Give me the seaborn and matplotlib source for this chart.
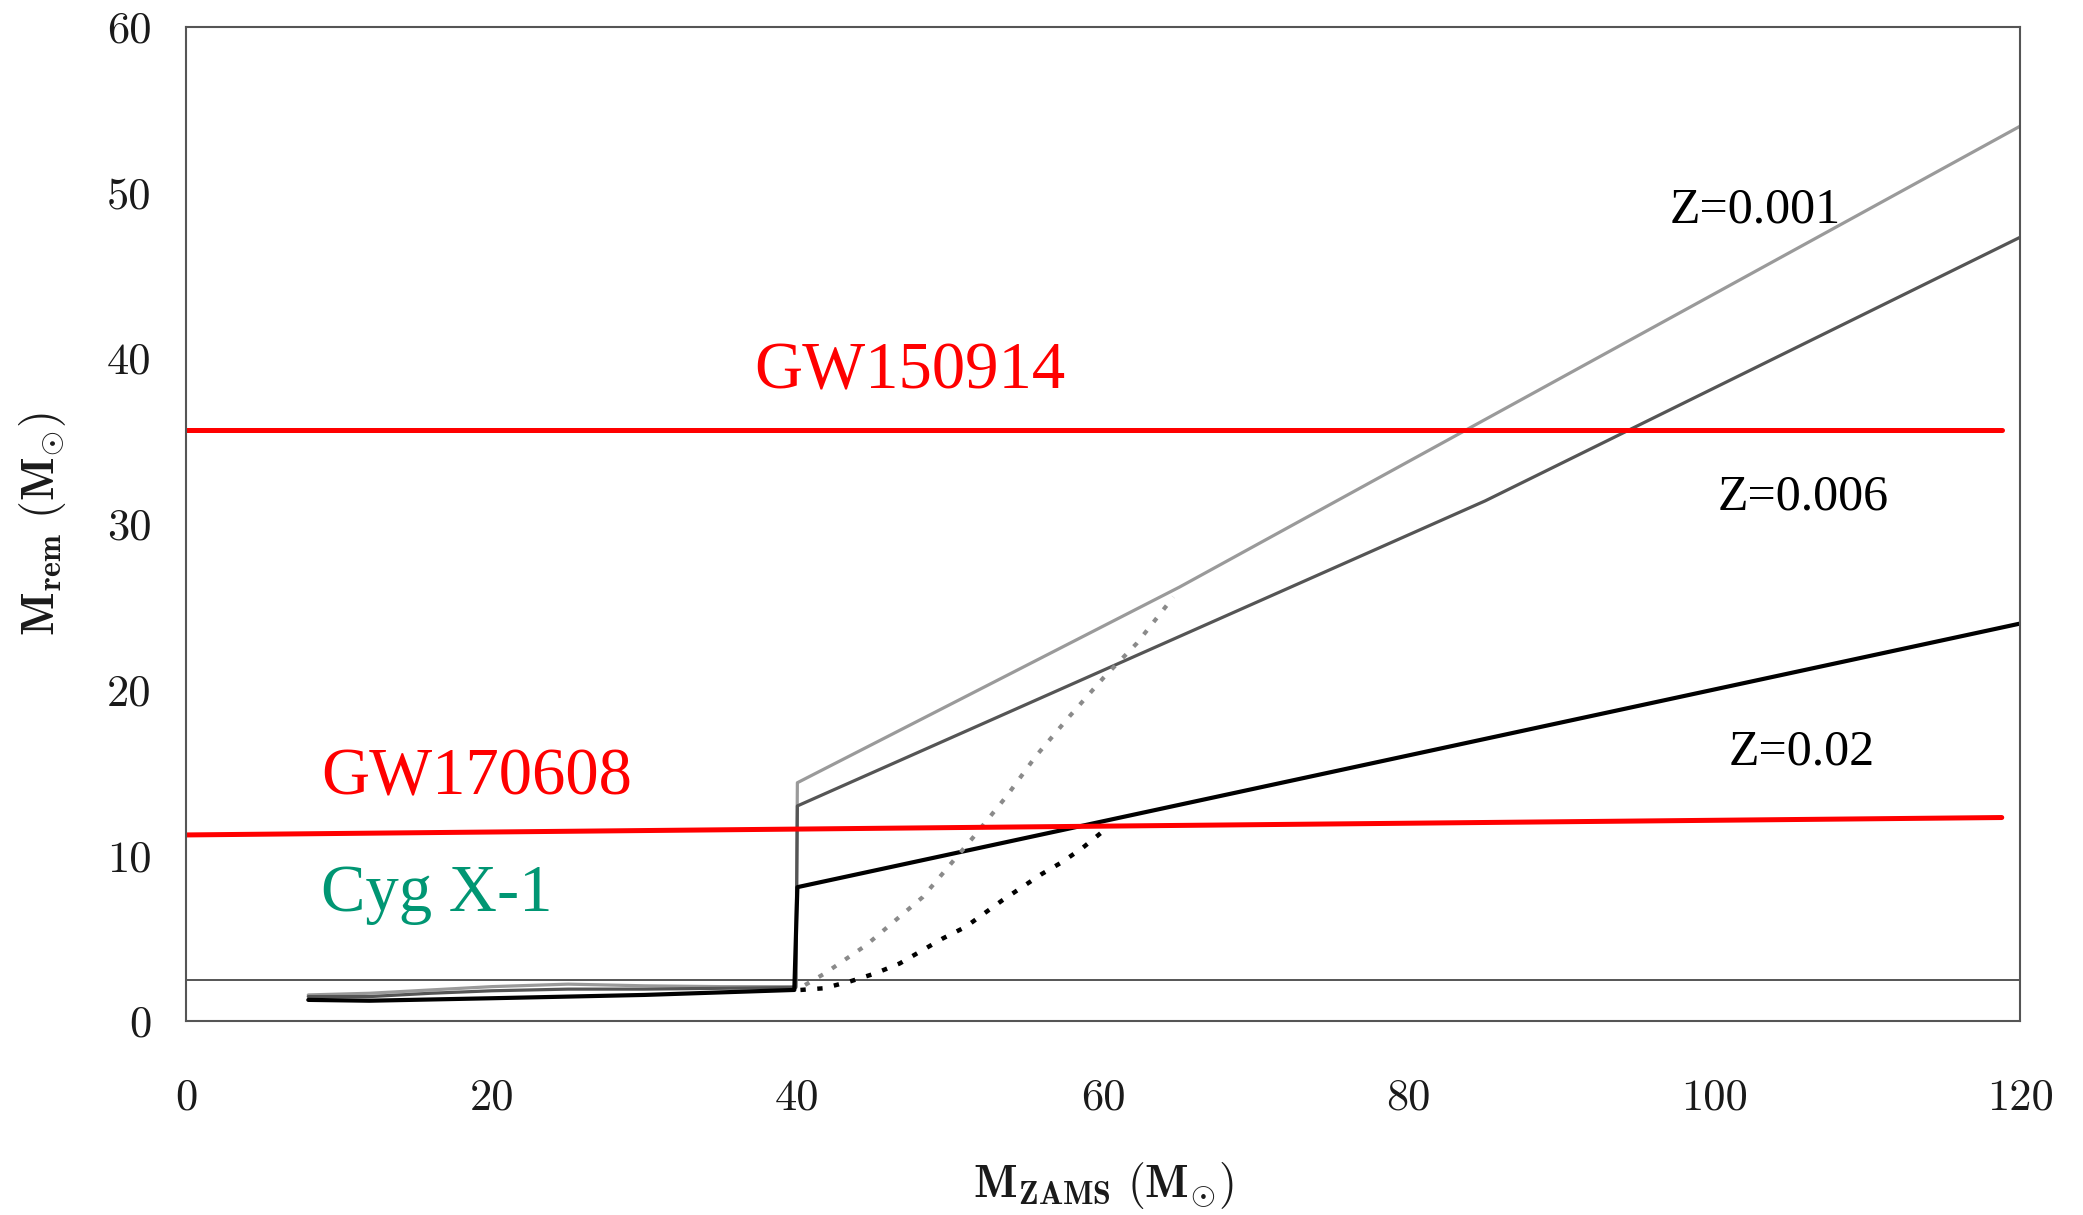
import numpy as np
import pandas as pd
import matplotlib
matplotlib.use("Agg")
import matplotlib.pyplot as plt
import seaborn as sns

# ---------------- data ----------------
z001_x = [8, 12, 16, 20, 25, 30, 35, 39.9, 40.0, 65, 120]
z001_y = [1.6, 1.7, 1.9, 2.1, 2.25, 2.15, 2.1, 2.1, 14.4, 26.2, 54.0]

z006_x = [8, 12, 16, 20, 25, 30, 35, 39.9, 40.0, 85, 120]
z006_y = [1.5, 1.5, 1.7, 1.85, 1.95, 1.95, 2.0, 2.05, 13.0, 31.4, 47.3]

z02_x = [8, 12, 20, 30, 39.8, 40.0, 120]
z02_y = [1.3, 1.25, 1.4, 1.6, 1.9, 8.1, 24.0]

z001_dot_x = [40.5, 41.8, 44.5, 48.2, 51.5, 53.7, 55.6, 57.8, 60.0, 62.2, 64.6]
z001_dot_y = [2.2, 2.9, 4.6, 7.5, 11.1, 13.6, 16.0, 18.4, 20.7, 22.8, 25.6]

z02_dot_x = [40.2, 41.7, 43.4, 45.1, 46.7, 49.5, 51.0, 53.4, 56.0, 57.3, 58.7, 60.3]
z02_dot_y = [1.9, 2.0, 2.4, 2.9, 3.5, 5.0, 5.7, 7.3, 8.9, 9.6, 10.5, 11.7]

gw150914_x = [0, 118.8]
gw150914_y = [35.65, 35.65]
gw170608_x = [0, 118.8]
gw170608_y = [11.25, 12.3]

ns_limit = 2.5

x_ticks = [0, 20, 40, 60, 80, 100, 120]
y_ticks = [0, 10, 20, 30, 40, 50, 60]

labels = ["Z=0.001", "Z=0.006", "Z=0.02"]
label_pos = [(97.1, 48.2), (100.2, 30.9), (100.9, 15.5)]

# ---------------- style ----------------
sns.set_style("white")
plt.rcParams['font.family'] = ['cmr10', 'DejaVu Serif']
plt.rcParams['mathtext.fontset'] = 'cm'
plt.rcParams['axes.formatter.use_mathtext'] = True

fig = plt.figure(figsize=(20.83, 12.15), dpi=100)
ax = fig.add_axes([0.0893, 0.1593, 0.9698 - 0.0893, 0.978 - 0.1593])

spine_col = "#555555"

def draw(xs, ys, color, lw, ls="-"):
    df = pd.DataFrame({"x": xs, "y": ys})
    sns.lineplot(data=df, x="x", y="y", sort=False, estimator=None,
                 color=color, linewidth=lw, linestyle=ls, ax=ax)

# neutron-star limit line
ax.axhline(ns_limit, color="#555555", lw=1.4, zorder=1)

draw(z001_x, z001_y, "#9a9a9a", 2.3)
draw(z006_x, z006_y, "#555555", 2.3)
draw(z02_x, z02_y, "#000000", 3.0)
draw(z001_dot_x, z001_dot_y, "#8a8a8a", 3.0, (0, (1.2, 2.6)))
draw(z02_dot_x, z02_dot_y, "#000000", 3.2, (0, (1.2, 2.6)))

draw(gw150914_x, gw150914_y, "#ff0000", 3.6)
draw(gw170608_x, gw170608_y, "#ff0000", 3.6)

# annotations
big = 48
ax.text(37.2, 38.2, "GW150914", color="#ff0000", fontsize=big,
        family="Liberation Serif", ha="left", va="baseline")
ax.text(8.86, 13.7, "GW170608", color="#ff0000", fontsize=big,
        family="Liberation Serif", ha="left", va="baseline")
ax.text(8.86, 6.65, "Cyg X-1", color="#009673", fontsize=big,
        family="Liberation Serif", ha="left", va="baseline")
for lab, (lx, ly) in zip(labels, label_pos):
    ax.text(lx, ly, lab, color="black", fontsize=36,
            family="Liberation Serif", ha="left", va="baseline")

ax.set_xlim(0, 120)
ax.set_ylim(0, 60)
ax.set_xticks(x_ticks)
ax.set_yticks(y_ticks)
ax.set_xticklabels([str(t) for t in x_ticks])
ax.set_yticklabels([str(t) for t in y_ticks])

for s in ax.spines.values():
    s.set_visible(True)
    s.set_color(spine_col)
    s.set_linewidth(1.5)

ax.tick_params(axis="both", direction="out", length=11, width=1.5,
               color=spine_col, labelsize=32, labelcolor="#1a1a1a")
ax.tick_params(axis="x", pad=30)
ax.tick_params(axis="y", pad=14)

ax.set_xlabel(r"$\mathbf{M}_{\mathbf{ZAMS}}\ (\mathbf{M}_{\odot})$",
              fontsize=33, labelpad=30, color="#1a1a1a")
ax.set_ylabel(r"$\mathbf{M}_{\mathbf{rem}}\ (\mathbf{M}_{\odot})$",
              fontsize=33, labelpad=28, color="#1a1a1a")

fig.savefig("out.png", dpi=100)
